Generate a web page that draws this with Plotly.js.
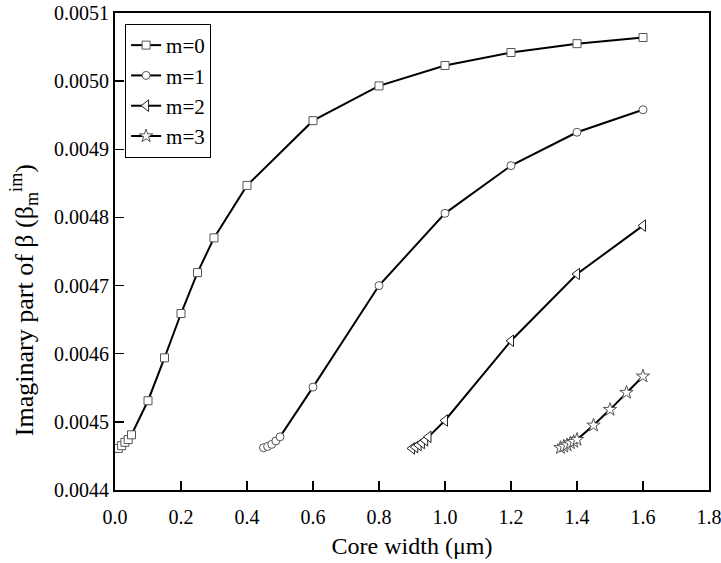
<!DOCTYPE html>
<html>
<head>
<meta charset="utf-8">
<script src="https://cdn.plot.ly/plotly-3.0.1.min.js"></script>
<style>html,body{margin:0;padding:0;background:#fff;}#chart{width:721px;height:563px;}</style>
</head>
<body>
<div id="chart"></div>
<script>
// Data
const m0_x = [0.01, 0.02, 0.03, 0.04, 0.05, 0.1, 0.15, 0.2, 0.25, 0.3, 0.4, 0.6, 0.8, 1.0, 1.2, 1.4, 1.6];
const m0_y = [0.004461, 0.004465, 0.004470, 0.004474, 0.004481, 0.004531, 0.004594, 0.004659, 0.004719, 0.004770, 0.004847, 0.004942, 0.004993, 0.005023, 0.005042, 0.005055, 0.005064];

const m1_x = [0.45, 0.4625, 0.475, 0.4875, 0.5, 0.6, 0.8, 1.0, 1.2, 1.4, 1.6];
const m1_y = [0.004462, 0.004464, 0.004467, 0.004472, 0.004478, 0.004551, 0.004700, 0.004806, 0.004876, 0.004925, 0.004958];

const m2_x = [0.90, 0.91, 0.92, 0.93, 0.94, 0.95, 1.0, 1.2, 1.4, 1.6];
const m2_y = [0.004461, 0.004463, 0.004466, 0.004469, 0.004473, 0.004478, 0.004502, 0.004619, 0.004717, 0.004788];

const m3_x = [1.35, 1.36, 1.37, 1.38, 1.39, 1.40, 1.45, 1.5, 1.55, 1.6];
const m3_y = [0.004462, 0.004464, 0.004466, 0.004469, 0.004471, 0.004474, 0.004495, 0.004518, 0.004543, 0.004567];

const seriesNames = ['m=0', 'm=1', 'm=2', 'm=3'];
const xTickVals = [0.0, 0.2, 0.4, 0.6, 0.8, 1.0, 1.2, 1.4, 1.6, 1.8];
const yTickVals = [0.0044, 0.0045, 0.0046, 0.0047, 0.0048, 0.0049, 0.0050, 0.0051];

const FONT = '"Liberation Serif", "Times New Roman", Times, "DejaVu Serif", serif';

function mk(x, y, name, symbol, size, mcolor) {
  return {
    x: x, y: y, name: name, type: 'scatter', mode: 'lines+markers',
    line: {color: '#000', width: 2},
    marker: {symbol: symbol, size: size, color: '#fff', line: {color: mcolor, width: 1}},
    cliponaxis: false
  };
}

const data = [
  mk(m0_x, m0_y, seriesNames[0], 'square', 8, '#555'),
  mk(m1_x, m1_y, seriesNames[1], 'circle', 8, '#555'),
  mk(m2_x, m2_y, seriesNames[2], 'triangle-left', 10, '#222'),
  mk(m3_x, m3_y, seriesNames[3], 'star', 10, '#555')
];

const layout = {
  width: 721, height: 563,
  margin: {l: 115, r: 12, t: 13, b: 73},
  paper_bgcolor: '#fff', plot_bgcolor: '#fff',
  font: {family: FONT, color: '#000', size: 20},
  showlegend: true,
  legend: {
    x: 0.017, y: 0.977, xanchor: 'left', yanchor: 'top',
    bordercolor: '#000', borderwidth: 1, bgcolor: '#fff',
    font: {family: FONT, size: 21, color: '#000'},
    tracegroupgap: 0
  },
  xaxis: {
    range: [0, 1.8], tickvals: xTickVals, tickformat: '.1f',
    ticks: 'inside', ticklen: 9, tickwidth: 1.5, tickcolor: '#000',
    showline: true, linewidth: 2, linecolor: '#000', mirror: true,
    showgrid: false, zeroline: false, ticklabelstandoff: 8,
    ticklabeloverflow: 'allow',
    tickfont: {family: FONT, size: 20, color: '#000'},
    title: {text: 'Core width (\u03bcm)', font: {family: FONT, size: 24, color: '#000'}, standoff: 10}
  },
  yaxis: {
    range: [0.0044, 0.0051], tickvals: yTickVals, tickformat: '.4f',
    ticks: 'inside', ticklen: 9, tickwidth: 1.5, tickcolor: '#000',
    showline: true, linewidth: 2, linecolor: '#000', mirror: true,
    showgrid: false, zeroline: false,
    tickfont: {family: FONT, size: 20, color: '#000'}
  },
  annotations: [{
    text: 'Imaginary part of \u03b2 (\u03b2<sub>m</sub><sup>im</sup>)',
    xref: 'paper', yref: 'paper', x: -0.153, y: 0.109,
    xanchor: 'center', yanchor: 'bottom', textangle: -90, showarrow: false,
    font: {family: FONT, size: 26, color: '#000'}
  }]
};

Plotly.newPlot('chart', data, layout, {staticPlot: true, displayModeBar: false});
</script>
</body>
</html>
